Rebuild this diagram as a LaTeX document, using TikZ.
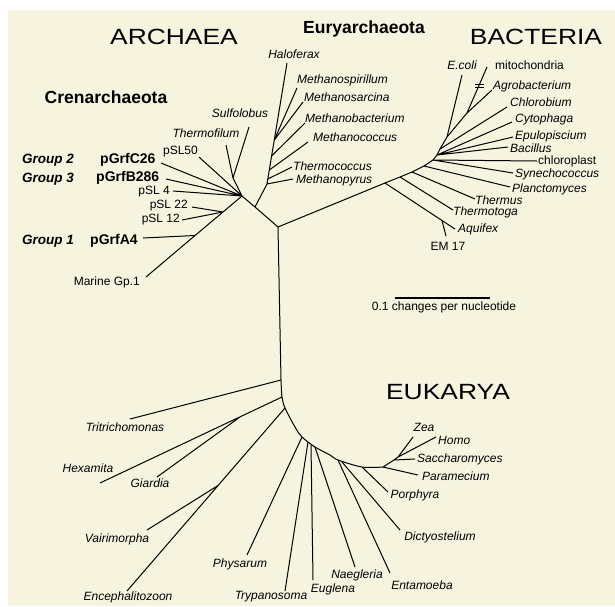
\documentclass[tikz,border=0pt]{standalone}
\usepackage{fontspec}
\setmainfont{Liberation Sans}
\usepackage{graphicx}
\definecolor{paper}{RGB}{246,243,223}
\tikzset{
  branch/.style={line width=1pt, line join=round},
  taxon/.style={font=\fontsize{12}{14}\selectfont\itshape, inner sep=0pt},
  plainlabel/.style={font=\fontsize{12}{14}\selectfont, inner sep=0pt},
  kingdom/.style={font=\fontsize{22}{24}\selectfont, inner sep=0pt},
  phylum/.style={font=\fontsize{17.5}{20}\selectfont\bfseries, inner sep=0pt},
  clone/.style={font=\fontsize{14}{16}\selectfont\bfseries, inner sep=0pt},
  grouplabel/.style={font=\fontsize{13.5}{16}\selectfont\bfseries\itshape, inner sep=0pt}
}
\begin{document}
\begin{tikzpicture}[x=1pt,y=-1pt]
  %
  % Paper
  \useasboundingbox (0,0) rectangle (615,606);
  \fill[white] (0,0) rectangle (615,606);
  \fill[paper] (8,10) rectangle (615,606);
  %
  % Titles
  \node[kingdom] (archaeaT) at (174,37) {\scalebox{1.2}[1]{ARCHAEA}};
  \node[kingdom] (bacteriaT) at (536,37) {\scalebox{1.2}[1]{BACTERIA}};
  \node[kingdom] (eukaryaT) at (448,392) {\scalebox{1.2}[1]{EUKARYA}};
  \node[phylum] (crenT) at (106,97) {Crenarchaeota};
  \node[phylum] (euryT) at (364,29) {Euryarchaeota};
  %
  % Root of the tree
  \coordinate (root) at (278,227);
  %
  % Crenarchaeota
  \coordinate (eury) at (255,207);
  \coordinate (cren) at (242,196);
  \coordinate (sl12) at (223,212);
  \coordinate (a4) at (195,235.5);
  \coordinate (marine) at (146,277);
  \coordinate (tf) at (233,178);
  \path (199,157) coordinate (psl50)
        (226,145) coordinate (tfil)
        (249,127) coordinate (sulf)
        (161,163) coordinate (c26)
        (166,179) coordinate (b286)
        (173,191) coordinate (psl4)
        (192,207) coordinate (psl22)
        (182,220) coordinate (psl12)
        (143,238) coordinate (grfa4);
  \draw[branch] (root) -- (eury) -- (cren) -- (sl12) -- (a4) -- (marine);
  \draw[branch] (cren) -- (psl50) (cren) -- (tf) -- (tfil) (tf) -- (sulf)
    (cren) -- (c26) (cren) -- (b286) (cren) -- (psl4)
    (sl12) -- (psl22) (sl12) -- (psl12) (a4) -- (grfa4);
  \node[grouplabel, anchor=west] (g2) at (22,160) {Group 2};
  \node[clone, anchor=west] (c26L) at (100,160) {pGrfC26};
  \node[grouplabel, anchor=west] (g3) at (22,179) {Group 3};
  \node[clone, anchor=west] (b286L) at (96,177.5) {pGrfB286};
  \node[grouplabel, anchor=west] (g1) at (22,241) {Group 1};
  \node[clone, anchor=west] (a4L) at (90,241) {pGrfA4};
  \node[plainlabel, anchor=east] (psl50L) at (198,152) {pSL50};
  \node[plainlabel, anchor=east] (psl4L) at (170,192) {pSL 4};
  \node[plainlabel, anchor=east] (psl22L) at (188,206) {pSL 22};
  \node[plainlabel, anchor=east] (psl12L) at (180,220) {pSL 12};
  \node[plainlabel, anchor=east] (marineL) at (140,282) {Marine Gp.1};
  \node[taxon] (tfilL) at (206,133) {Thermofilum};
  \node[taxon] (sulfL) at (240,113) {Sulfolobus};
  %
  % Euryarchaeota
  \coordinate (e1) at (267,184);
  \coordinate (e2) at (267.8,179);
  \coordinate (e3) at (269.3,170);
  \coordinate (e4) at (271.6,156);
  \coordinate (e5) at (274.3,140);
  \path (287,63) coordinate (halo)
        (297,88) coordinate (mspi)
        (303,102) coordinate (msar)
        (305,123) coordinate (mbac)
        (308,142) coordinate (mcoc)
        (292,167) coordinate (tcoc)
        (293,179) coordinate (mpyr);
  \draw[branch] (eury) -- (e1) -- (e2) -- (e3) -- (e4) -- (e5) -- (halo);
  \draw[branch] (e5) -- (mspi) (e5) -- (msar) (e4) -- (mbac)
    (e3) -- (mcoc) (e2) -- (tcoc) (e1) -- (mpyr);
  \node[taxon] (haloL) at (294,54) {Haloferax};
  \node[taxon, anchor=west] (mspiL) at (297,80) {Methanospirillum};
  \node[taxon, anchor=west] (msarL) at (304,97) {Methanosarcina};
  \node[taxon, anchor=west] (mbacL) at (305,118) {Methanobacterium};
  \node[taxon, anchor=west] (mcocL) at (313,137) {Methanococcus};
  \node[taxon, anchor=west] (tcocL) at (293,166) {Thermococcus};
  \node[taxon, anchor=west] (mpyrL) at (296,180) {Methanopyrus};
  %
  % Bacteria
  \path (385,183) coordinate (b1) (400,177) coordinate (b2)
        (412,172) coordinate (b3) (424,166) coordinate (b4)
        (433,160) coordinate (b5) (437,155) coordinate (b6)
        (440,149) coordinate (b7) (447,137) coordinate (b8)
        (467,113) coordinate (b9) (442,220.5) coordinate (em);
  \path (455,229) coordinate (aqui) (446,236) coordinate (em17)
        (453,210) coordinate (ttog) (475,199) coordinate (ther)
        (510,187) coordinate (plan) (513,173) coordinate (syne)
        (537,161) coordinate (chlp) (508,147) coordinate (baci)
        (513,137) coordinate (epul) (512,122) coordinate (cyto)
        (507,107) coordinate (chlb) (462,75) coordinate (ecol)
        (492,90) coordinate (agro) (487,67) coordinate (mito);
  \draw[branch] (root) -- (b1) -- (b2) -- (b3) -- (b4) -- (b5) -- (b6)
    -- (b7) -- (b8) -- (b9) -- (mito);
  \draw[branch] (b1) -- (em) -- (aqui) (em) -- (em17) (b2) -- (ttog)
    (b3) -- (ther) (b4) -- (plan) (b5) -- (syne) (b5) -- (chlp)
    (b6) -- (baci) (b6) -- (epul) (b6) -- (cyto) (b7) -- (chlb)
    (b8) -- (ecol) (b9) -- (agro);
  % tick on the mitochondria branch
  \draw[line width=0.8pt] (475,84.5) -- (484,84.5) (475,87.5) -- (484,87.5);
  \node[taxon] (ecolL) at (462,65) {E.coli};
  \node[plainlabel, anchor=west] (mitoL) at (495,65) {mitochondria};
  \node[taxon, anchor=west] (agroL) at (493,86) {Agrobacterium};
  \node[taxon, anchor=west] (chlbL) at (510,102) {Chlorobium};
  \node[taxon, anchor=west] (cytoL) at (515,119) {Cytophaga};
  \node[taxon, anchor=west] (epulL) at (515,136) {Epulopiscium};
  \node[taxon, anchor=west] (baciL) at (510,148) {Bacillus};
  \node[plainlabel, anchor=west] (chlpL) at (538,161) {chloroplast};
  \node[taxon, anchor=west] (syneL) at (515,174) {Synechococcus};
  \node[taxon, anchor=west] (planL) at (512,189) {Planctomyces};
  \node[taxon, anchor=west] (therL) at (475,200) {Thermus};
  \node[taxon, anchor=west] (ttogL) at (453,212) {Thermotoga};
  \node[taxon, anchor=west] (aquiL) at (458,229) {Aquifex};
  \node[plainlabel] (em17L) at (448,246) {EM 17};
  %
  % Scale bar
  \coordinate (barL) at (395,298);
  \coordinate (barR) at (490,298);
  \draw[line width=1.4pt] (barL) -- (barR);
  \node[plainlabel] (barT) at (444,307) {0.1 changes per nucleotide};
  %
  % Eukarya
  \path (281,380) coordinate (k1) (282,397) coordinate (k2)
        (285,408) coordinate (k3) (295,427) coordinate (kx)
        (302,437) coordinate (k4) (308,442) coordinate (k5)
        (311,444.5) coordinate (k6) (315,447) coordinate (k7)
        (330,455) coordinate (ky) (338,460) coordinate (k8)
        (342,462) coordinate (k9) (362,467) coordinate (k10)
        (383,467) coordinate (k11) (394,460) coordinate (c1)
        (398,457) coordinate (c2) (240,417) coordinate (gia)
        (218,485.5) coordinate (vai);
  \path (130,419) coordinate (trit) (100,483) coordinate (hexa)
        (157,477) coordinate (giar) (127,591) coordinate (ence)
        (147,530) coordinate (vair) (247,555) coordinate (phys)
        (285,591) coordinate (tryp) (313,580) coordinate (eugl)
        (355,567) coordinate (naeg) (390,573) coordinate (enta)
        (400,530) coordinate (dict) (388,492) coordinate (porp)
        (418,475) coordinate (para) (415,459) coordinate (sacc)
        (413,437) coordinate (zea) (436,437) coordinate (homo);
  \draw[branch] (root) -- (k1);
  \draw[branch] plot[smooth] coordinates {(k1) (k2) (k3) (kx) (k4) (k7) (ky) (k8) (k10) (k11)};
  \draw[branch] (k1) -- (trit) (k2) -- (hexa) (gia) -- (giar)
    (k3) -- (ence) (vai) -- (vair) (k4) -- (phys) (k5) -- (tryp)
    (k6) -- (eugl) (k7) -- (naeg) (k8) -- (enta) (k9) -- (dict)
    (k10) -- (porp) (k11) -- (para) (k11) -- (c1) -- (sacc)
    (c1) -- (c2) -- (zea) (c2) -- (homo);
  \node[taxon] (tritL) at (125,427) {Tritrichomonas};
  \node[taxon] (hexaL) at (88,468) {Hexamita};
  \node[taxon] (giarL) at (150,483) {Giardia};
  \node[taxon] (vairL) at (117,539) {Vairimorpha};
  \node[taxon] (enceL) at (128,597) {Encephalitozoon};
  \node[taxon] (physL) at (240,564) {Physarum};
  \node[taxon] (trypL) at (271,597) {Trypanosoma};
  \node[taxon] (euglL) at (333,589) {Euglena};
  \node[taxon] (naegL) at (357,575) {Naegleria};
  \node[taxon] (entaL) at (422,585) {Entamoeba};
  \node[taxon] (dictL) at (440,537) {Dictyostelium};
  \node[taxon] (porpL) at (415,495) {Porphyra};
  \node[taxon, anchor=west] (paraL) at (422,476) {Paramecium};
  \node[taxon, anchor=west] (saccL) at (417,459) {Saccharomyces};
  \node[taxon, anchor=west] (homoL) at (438,440) {Homo};
  \node[taxon] (zeaL) at (424,427) {Zea};
\end{tikzpicture}
\end{document}
